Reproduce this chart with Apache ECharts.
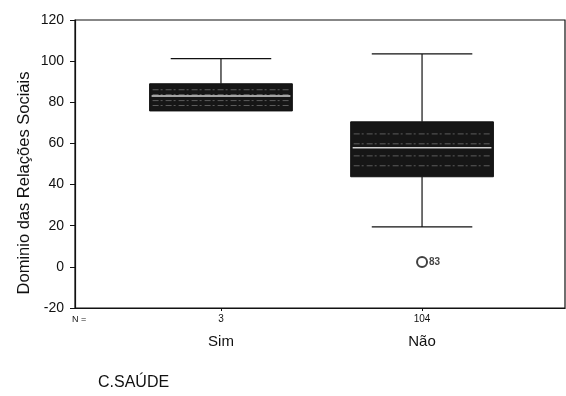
<!DOCTYPE html>
<html>
<head>
<meta charset="utf-8">
<script src="https://cdn.jsdelivr.net/npm/echarts@6/dist/echarts.min.js"></script>
<style>
  html, body { margin: 0; padding: 0; background: #fff; }
  #chart { width: 566px; height: 396px; }
</style>
</head>
<body>
<div id="chart"></div>
<script>
// Group labels and sample sizes
const categories = ['Sim', 'Não'];
const groupCounts = [3, 104];

// Box statistics per group (Dominio das Relações Sociais)
const whiskerLow = [75.8, 19.4];
const quartile1 = [75.8, 43.8];
const medians = [83.0, 57.9];
const quartile3 = [89.0, 70.5];
const whiskerHigh = [101.2, 103.5];

// Outlying case: group position, value, case label
const outlierGroup = [2];
const outlierValue = [2.4];
const outlierCase = ['83'];

// Y axis tick values
const yTicks = [-20, 0, 20, 40, 60, 80, 100, 120];

const FONT = 'Liberation Sans, Arial, sans-serif';
const groupPos = categories.map((_, i) => i + 1);

const boxData = categories.map((_, i) => [
  groupPos[i], whiskerLow[i], quartile1[i], medians[i], quartile3[i], whiskerHigh[i]
]);

function renderBox(params, api) {
  const x = api.value(0);
  const lo = api.value(1), q1 = api.value(2), med = api.value(3), q3 = api.value(4), hi = api.value(5);
  const band = api.size([1, 0])[0];
  const boxW = band * 0.71;
  const capW = band * 0.5;
  const pQ3 = api.coord([x, q3]);
  const pQ1 = api.coord([x, q1]);
  const pMed = api.coord([x, med]);
  const pHi = api.coord([x, hi]);
  const pLo = api.coord([x, lo]);
  const cx = pQ3[0];
  const line = { stroke: '#111', lineWidth: 1.2 };
  const children = [];
  // whiskers and caps
  if (hi > q3) {
    children.push({ type: 'line', shape: { x1: cx, y1: pHi[1], x2: cx, y2: pQ3[1] }, style: line });
    children.push({ type: 'line', shape: { x1: cx - capW / 2, y1: pHi[1], x2: cx + capW / 2, y2: pHi[1] }, style: line });
  }
  if (lo < q1) {
    children.push({ type: 'line', shape: { x1: cx, y1: pLo[1], x2: cx, y2: pQ1[1] }, style: line });
    children.push({ type: 'line', shape: { x1: cx - capW / 2, y1: pLo[1], x2: cx + capW / 2, y2: pLo[1] }, style: line });
  }
  // dark shaded box
  const top = pQ3[1], h = pQ1[1] - pQ3[1];
  children.push({
    type: 'rect',
    shape: { x: cx - boxW / 2, y: top, width: boxW, height: h },
    style: { fill: '#161616', stroke: '#111', lineWidth: 1 }
  });
  // faint streaks of the halftone shading
  [0.22, 0.4, 0.62, 0.8].forEach(f => {
    const yy = top + h * f;
    children.push({
      type: 'line',
      shape: { x1: cx - boxW / 2 + 3, y1: yy, x2: cx + boxW / 2 - 3, y2: yy },
      style: { stroke: 'rgba(255,255,255,0.3)', lineWidth: 1, lineDash: [6, 2, 2, 3] }
    });
  });
  // median
  children.push({
    type: 'line',
    shape: { x1: cx - boxW / 2 + 2, y1: pMed[1], x2: cx + boxW / 2 - 2, y2: pMed[1] },
    style: { stroke: 'rgba(255,255,255,0.8)', lineWidth: 1.5 }
  });
  return { type: 'group', children };
}

const chart = echarts.init(document.getElementById('chart'), null, { renderer: 'canvas' });

chart.setOption({
  backgroundColor: '#fff',
  animation: false,
  grid: {
    left: 75, right: 1, top: 20, bottom: 88,
    show: true, borderColor: '#111', borderWidth: 1.2, backgroundColor: 'transparent'
  },
  xAxis: [
    {
      type: 'value', min: 0.274, max: 2.711, position: 'bottom',
      splitLine: { show: false },
      axisLine: { show: true, onZero: false, lineStyle: { color: '#111', width: 1.2 } },
      axisTick: { show: true, customValues: groupPos, length: 3, inside: false, lineStyle: { color: '#111' } },
      axisLabel: {
        customValues: groupPos, margin: 6, fontSize: 10, color: '#111', fontFamily: FONT,
        formatter: v => String(groupCounts[Math.round(v) - 1])
      }
    },
    {
      type: 'value', min: 0.274, max: 2.711, position: 'bottom',
      splitLine: { show: false },
      axisLine: { show: false, onZero: false },
      axisTick: { show: false },
      axisLabel: {
        customValues: groupPos, margin: 26, fontSize: 15, color: '#111', fontFamily: FONT,
        formatter: v => categories[Math.round(v) - 1]
      }
    }
  ],
  yAxis: {
    type: 'value', min: yTicks[0], max: yTicks[yTicks.length - 1], interval: 20,
    splitLine: { show: false },
    axisLine: { show: true, lineStyle: { color: '#111', width: 1.2 } },
    axisTick: { show: true, length: 5, inside: false, lineStyle: { color: '#111' } },
    axisLabel: { fontSize: 14, color: '#111', fontFamily: FONT, margin: 11 }
  },
  graphic: [
    {
      type: 'text', x: 24, y: 183, rotation: Math.PI / 2,
      style: {
        text: 'Dominio das Relações Sociais', fontSize: 16.5, fill: '#111', fontFamily: FONT,
        align: 'center', verticalAlign: 'middle'
      }
    },
    { type: 'text', left: 72, top: 315, style: { text: 'N =', fontSize: 9, fill: '#111', fontFamily: FONT } },
    { type: 'text', left: 98, top: 375, style: { text: 'C.SAÚDE', fontSize: 16, fill: '#111', fontFamily: FONT } }
  ],
  series: [
    {
      type: 'custom',
      renderItem: renderBox,
      data: boxData,
      encode: { x: 0, y: [1, 2, 3, 4, 5] },
      clip: false,
      z: 2
    },
    {
      type: 'scatter',
      symbol: 'emptyCircle',
      symbolSize: 10,
      itemStyle: { color: '#111', borderColor: '#111', borderWidth: 1 },
      data: outlierValue.map((v, i) => ({ value: [outlierGroup[i], v], caseNo: outlierCase[i] })),
      label: {
        show: true, position: 'right', distance: 1,
        formatter: p => p.data.caseNo,
        fontSize: 10, fontWeight: 'bold', color: '#111', fontFamily: FONT
      },
      z: 3
    }
  ]
});
</script>
</body>
</html>
